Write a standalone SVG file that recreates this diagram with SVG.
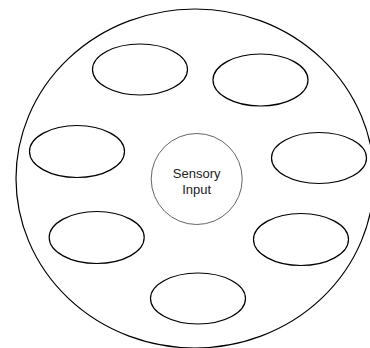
<svg xmlns="http://www.w3.org/2000/svg" width="370" height="348" viewBox="0 0 370 348">
<style>
.o{fill:none;stroke:#000;stroke-width:1.2}
.c{fill:#fff;stroke:#666;stroke-width:1}
.t{font-family:"Liberation Sans",Arial,sans-serif;font-size:13px;fill:#222;text-anchor:middle}
</style>
<rect width="370" height="348" fill="#fff"/>
<g id="outer"><ellipse class="o" cx="195" cy="178.5" rx="179" ry="169.5"/></g>
<g id="n1"><ellipse class="o" cx="140" cy="69.5" rx="47.5" ry="25.5"/></g>
<g id="n2"><ellipse class="o" cx="260.5" cy="80" rx="47.5" ry="26"/></g>
<g id="n3"><ellipse class="o" cx="77" cy="151.5" rx="47.5" ry="26"/></g>
<g id="n4"><ellipse class="o" cx="319" cy="158" rx="47.5" ry="25.5"/></g>
<g id="n5"><ellipse class="o" cx="96.7" cy="237.5" rx="47.5" ry="26"/></g>
<g id="n6"><ellipse class="o" cx="301" cy="239.5" rx="47.5" ry="26"/></g>
<g id="n7"><ellipse class="o" cx="198" cy="298.5" rx="47.5" ry="25.5"/></g>
<g id="center"><circle class="c" cx="196.7" cy="179" r="45.5"/>
<text class="t" x="196.7" y="177.5">Sensory</text>
<text class="t" x="196.7" y="194">Input</text></g>
<g id="connectors"/>
</svg>
